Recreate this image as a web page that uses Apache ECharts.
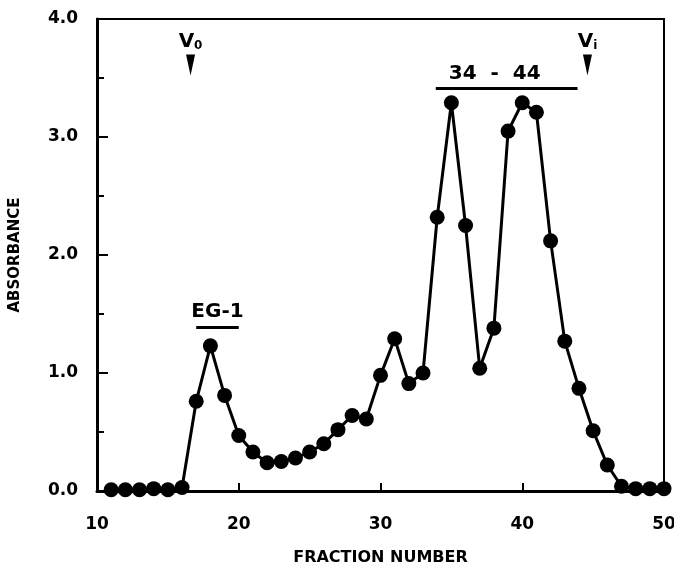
<!DOCTYPE html>
<html>
<head>
<meta charset="utf-8">
<script src="https://cdn.jsdelivr.net/npm/echarts@6/dist/echarts.min.js"></script>
<style>
  html, body { margin: 0; padding: 0; background: #fff; }
  #chart { width: 674px; height: 565px; }
</style>
</head>
<body>
<div id="chart"></div>
<script>
// fraction numbers and measured absorbance
var fractions = [11, 12, 13, 14, 15, 16, 17, 18, 19, 20, 21, 22, 23, 24, 25, 26, 27, 28, 29, 30,
  31, 32, 33, 34, 35, 36, 37, 38, 39, 40, 41, 42, 43, 44, 45, 46, 47, 48, 49, 50]
var absorbance = [0.01, 0.01, 0.01, 0.02, 0.01, 0.03, 0.76, 1.23, 0.81, 0.47, 0.33, 0.24, 0.25, 0.28, 0.33, 0.40, 0.52, 0.64, 0.61, 0.98,
  1.29, 0.91, 1.00, 2.32, 3.29, 2.25, 1.04, 1.38, 3.05, 3.29, 3.21, 2.12, 1.27, 0.87, 0.51, 0.22, 0.04, 0.02, 0.02, 0.02]

// pooled fractions and void / inclusion volumes
var pools = [{ name: 'EG-1', from: 17, to: 20, level: 1.39 }, { name: '34  -  44', from: 33.9, to: 43.9, level: 3.41 }]
var volumes = [{ name: '0', at: 16.6 }, { name: 'i', at: 44.6 }]
var arrowLevel = 3.61

var font = "'DejaVu Sans', sans-serif"

var chart = echarts.init(document.getElementById('chart'))

var points = fractions.map(function (f, i) { return [f, absorbance[i]] })

var lineData = pools.map(function (p, i) {
  return [
    {
      coord: [p.from, p.level],
      label: { show: true, position: 'middle', formatter: p.name, distance: 5, padding: i === 1 ? [0, 24, 0, 0] : 0 }
    },
    { coord: [p.to, p.level] }
  ]
})

var arrowData = volumes.map(function (v) {
  return { coord: [v.at, arrowLevel], value: v.name }
})

var options = {
  animation: false,
  grid: {
    left: 97,
    right: 10,
    top: 19,
    bottom: 74,
    outerBoundsMode: 'none',
    show: true,
    borderColor: '#000',
    borderWidth: 2
  },
  xAxis: {
    type: 'value',
    min: 10,
    max: 50,
    interval: 10,
    name: 'FRACTION NUMBER',
    nameLocation: 'middle',
    nameGap: 59,
    nameTextStyle: { color: '#000', fontFamily: font, fontWeight: 'bold', fontSize: 16 },
    axisLine: { lineStyle: { color: '#000', width: 3 } },
    axisTick: { inside: true, length: 8, lineStyle: { color: '#000', width: 2 } },
    axisLabel: { color: '#000', fontFamily: font, fontWeight: 'bold', fontSize: 17, margin: 25 },
    splitLine: { show: false }
  },
  yAxis: [
    {
      type: 'value',
      min: 0,
      max: 4,
      interval: 1,
      name: 'ABSORBANCE',
      nameLocation: 'middle',
      nameGap: 74,
      nameTextStyle: { color: '#000', fontFamily: font, fontWeight: 'bold', fontSize: 15 },
      axisLine: { lineStyle: { color: '#000', width: 3 } },
      axisTick: { inside: true, length: 11, lineStyle: { color: '#000', width: 2 } },
      axisLabel: {
        color: '#000', fontFamily: font, fontWeight: 'bold', fontSize: 17, margin: 19,
        formatter: function (v) { return v.toFixed(1) }
      },
      splitLine: { show: false }
    },
    {
      // half-step ticks
      type: 'value',
      position: 'left',
      min: 0,
      max: 4,
      interval: 0.5,
      axisLine: { show: false },
      axisTick: { show: true, inside: true, length: 7, lineStyle: { color: '#000', width: 2 } },
      axisLabel: { show: false },
      splitLine: { show: false }
    }
  ],
  series: [
    {
      type: 'line',
      data: points,
      symbol: 'circle',
      symbolSize: 15,
      itemStyle: { color: '#000' },
      lineStyle: { color: '#000', width: 3 },
      markLine: {
        silent: true,
        symbol: 'none',
        lineStyle: { color: '#000', width: 3, type: 'solid' },
        label: { color: '#000', fontFamily: font, fontWeight: 'bold', fontSize: 20 },
        data: lineData
      },
      markPoint: {
        silent: true,
        symbol: 'triangle',
        symbolRotate: 180,
        symbolSize: [9, 21],
        itemStyle: { color: '#000' },
        label: {
          show: true,
          position: 'top',
          distance: 3,
          formatter: function (p) { return '{v|V}{s|' + p.value + '}' },
          rich: {
            v: { color: '#000', fontFamily: font, fontWeight: 'bold', fontSize: 20 },
            s: { color: '#000', fontFamily: font, fontWeight: 'bold', fontSize: 12, verticalAlign: 'bottom', padding: [8, 0, 0, 0] }
          }
        },
        data: arrowData
      }
    }
  ]
}

chart.setOption(options)
</script>
</body>
</html>
